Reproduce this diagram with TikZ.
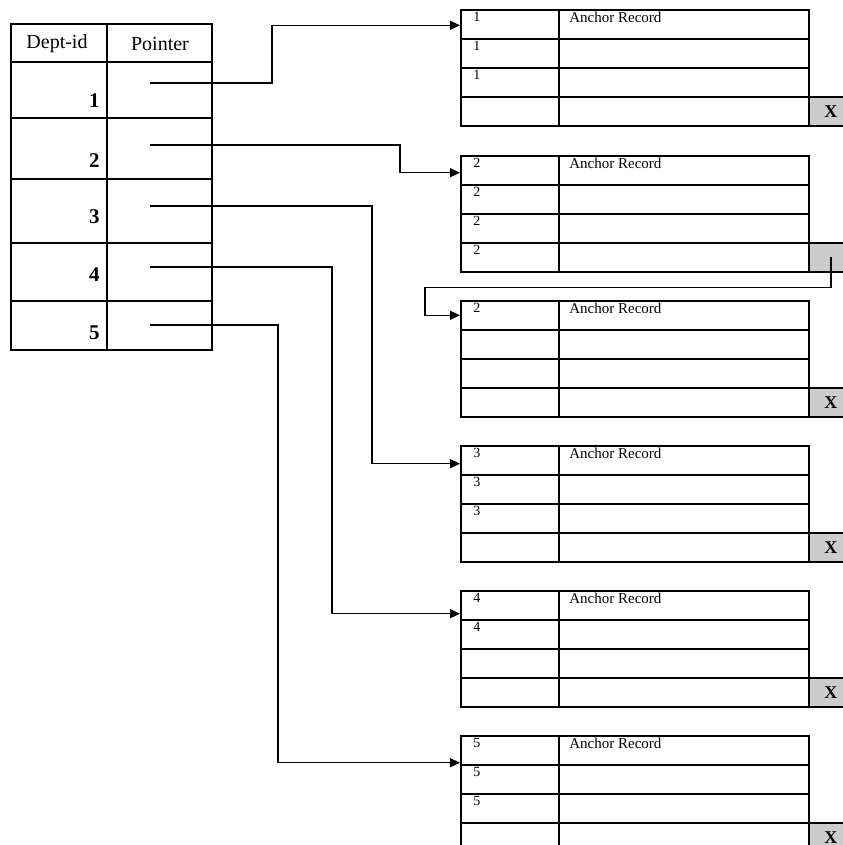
\documentclass[tikz,border=0pt]{standalone}
\usepackage{fontspec}
\setmainfont{Liberation Serif}
\usetikzlibrary{arrows.meta, positioning, calc}
\tikzset{
  grid/.style={draw=black, line width=0.8pt},
  cellbox/.style={rectangle, draw=black, line width=0.8pt, anchor=north west,
    inner sep=0pt, minimum height=14.5pt},
  keycell/.style={cellbox, minimum width=49pt},
  reccell/.style={cellbox, minimum width=125pt},
  nilcell/.style={cellbox, fill=gray!40, minimum width=22pt,
    font=\bfseries\fontsize{9}{10}\selectfont, text width=17pt, align=center},
  lbl/.style={anchor=north west, inner sep=0.5pt, font=\fontsize{7}{8}\selectfont},
  headtxt/.style={font=\fontsize{10}{12}\selectfont},
  idtxt/.style={anchor=base east, inner sep=0pt, font=\bfseries\fontsize{10.5}{12}\selectfont},
  ptr/.style={-{Triangle[length=5pt, width=4.5pt]}, line width=0.7pt},
}
% one bucket: name, top edge, keys in the first column, nil cell text
\newcommand{\bucket}[4]{%
  \foreach \i in {1,...,4}
    \node[keycell] (#1-k\i) at (460,{#2+(\i-1)*29}) {};
  \foreach \i in {1,...,4}
    \node[reccell] (#1-r\i) at (558,{#2+(\i-1)*29}) {};
  \node[nilcell] (#1-nil) at (808,{#2+87}) {#4};
  \node[lbl, font=\fontsize{7.5}{8}\selectfont] at ([xshift=5pt, yshift=-0.8pt]#1-r1.north west) {Anchor Record};
  \foreach \lab [count=\i] in {#3}
    \node[lbl] at ([xshift=6pt, yshift=-0.8pt]#1-k\i.north west) {\lab};
}

\begin{document}
\begin{tikzpicture}[x=0.5pt, y=-0.5pt]
\useasboundingbox (0,0) rectangle (842,845);

% directory table
\draw[grid] (11,24) rectangle (212,350);
\draw[grid] (107,24) -- (107,350);
\foreach \y in {62,118,179,243,301}
  \draw[grid] (11,\y) -- (212,\y);
\node[headtxt] (hid) at (57,44) {Dept-id};
\node[headtxt] (hptr) at (160,44) {Pointer};
\foreach \n/\y in {1/108,2/168,3/224,4/281,5/339}
  \node[idtxt] (id\n) at (100,\y) {\n};
\foreach \n/\y in {1/83,2/145,3/206,4/267,5/325}
  \coordinate (p\n) at (150,\y);

% buckets
\bucket{b1}{9}{1,1,1}{X}
\bucket{b2}{155}{2,2,2,2}{}
\bucket{b3}{300}{2}{X}
\bucket{b4}{445}{3,3,3}{X}
\bucket{b5}{590}{4,4}{X}
\bucket{b6}{735}{5,5,5}{X}

% pointers
\draw[ptr] (p1) -- ++(122,0) |- ([yshift=-0.5pt]b1-k1.west);
\draw[ptr] (p2) -- ++(250,0) |- ([yshift=-1.2pt]b2-k1.west);
\draw[ptr] (p3) -- ++(222,0) |- ([yshift=-1.7pt]b4-k1.west);
\draw[ptr] (p4) -- ++(182,0) |- ([yshift=-4.2pt]b5-k1.west);
\draw[ptr] (p5) -- ++(128,0) |- ([yshift=-6.2pt]b6-k1.west);
\draw[ptr] (b2-nil.center) -- ++(0,30) -| ([xshift=-17.5pt]b3-k1.west) -- (b3-k1.west);
\end{tikzpicture}
\end{document}
